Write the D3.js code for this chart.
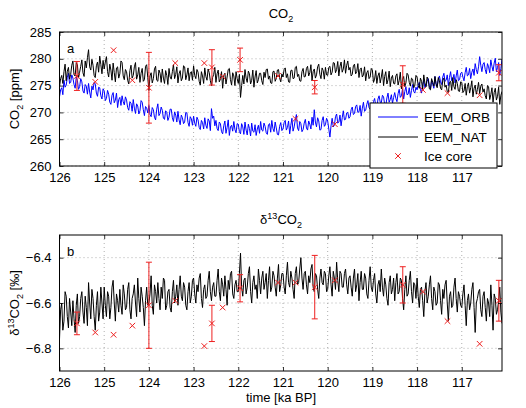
<!DOCTYPE html>
<html>
<head>
<meta charset="utf-8">
<script src="https://cdn.jsdelivr.net/npm/d3@7"></script>
<style>
  body { margin: 0; background: #fff; }
  text { font-family: "Liberation Sans", Arial, sans-serif; fill: #000; }
</style>
</head>
<body>
<div class="root"></div>
<script>
// model output sampled every 0.025 ka from 126 ka (one row per 0.5 ka)
var modelStart = 126, modelStep = 0.025;

var eemNat = [
  274.8, 276.3, 276.9, 275.4, 277.6, 279.0, 275.9, 277.7, 278.4, 276.2, 277.1, 278.8, 279.6, 277.0, 276.8, 279.3, 278.9, 276.4, 277.5, 278.6,
  279.8, 277.4, 276.7, 279.6, 278.3, 280.2, 281.7, 278.5, 277.9, 279.9, 278.8, 276.9, 276.5, 278.7, 279.4, 277.5, 280.5, 278.9, 277.2, 279.7,
  278.1, 279.4, 280.4, 277.6, 276.6, 279.0, 277.9, 276.0, 279.2, 277.4, 275.7, 278.3, 278.5, 276.4, 277.2, 279.6, 279.3, 276.8, 276.1, 278.0,
  277.6, 276.0, 275.3, 277.8, 278.8, 276.4, 276.9, 278.5, 279.3, 276.2, 277.0, 278.4, 275.6, 277.3, 278.2, 275.8, 276.1, 278.6, 278.9, 276.5,
  274.1, 276.8, 277.4, 275.5, 276.3, 278.1, 278.6, 276.0, 275.8, 277.9, 277.3, 275.6, 278.1, 276.4, 275.4, 277.8, 276.9, 275.2, 278.2, 276.6,
  276.2, 277.6, 278.9, 276.3, 277.1, 278.5, 275.5, 277.2, 277.8, 275.9, 276.4, 278.7, 278.5, 276.1, 277.0, 278.3, 275.9, 277.4, 277.6, 276.0,
  278.7, 276.9, 276.3, 278.0, 277.5, 275.8, 275.1, 277.6, 276.8, 275.4, 278.3, 276.7, 276.0, 278.1, 277.4, 275.9, 275.0, 276.5, 277.1, 278.4,
  275.6, 277.2, 277.9, 275.7, 276.2, 277.6, 274.5, 276.9, 277.3, 275.3, 276.6, 278.0, 278.2, 276.1, 275.1, 277.4, 276.8, 275.0, 277.6, 276.3,
  275.4, 277.1, 272.8, 275.0, 276.9, 275.3, 278.0, 276.4, 275.6, 277.7, 277.2, 275.3, 276.0, 277.9, 274.7, 276.6, 277.8, 275.5, 276.1, 277.3,
  277.3, 275.9, 275.2, 277.5, 276.5, 278.0, 278.1, 276.2, 276.8, 275.5, 275.4, 277.6, 277.7, 275.8, 276.3, 277.9, 278.0, 276.4, 275.7, 277.2,
  276.6, 278.0, 278.3, 276.5, 277.2, 275.7, 275.6, 277.8, 277.9, 276.3, 276.4, 278.4, 278.6, 276.7, 277.1, 275.9, 275.8, 277.6, 278.2, 276.6,
  276.7, 278.2, 278.6, 276.8, 277.4, 278.9, 275.9, 277.6, 278.1, 276.4, 277.0, 278.5, 279.0, 277.1, 276.3, 278.3, 277.8, 276.2, 278.4, 277.0,
  276.9, 278.4, 278.6, 277.0, 277.5, 279.3, 279.2, 277.4, 278.0, 279.5, 276.8, 278.6, 279.4, 277.5, 278.1, 279.8, 277.3, 278.8, 279.6, 277.9,
  278.4, 276.8, 277.1, 278.7, 279.0, 277.2, 277.6, 279.1, 276.5, 278.0, 278.3, 276.6, 277.0, 278.5, 275.9, 277.4, 277.8, 276.3, 276.6, 278.2,
  277.9, 275.6, 276.2, 277.8, 275.4, 276.8, 277.4, 275.5, 276.6, 278.0, 275.0, 276.7, 277.6, 275.3, 276.1, 277.7, 274.8, 276.4, 276.9, 275.4,
  275.3, 276.8, 277.2, 275.1, 276.0, 277.5, 274.4, 276.2, 276.7, 274.8, 275.5, 277.3, 277.0, 275.6, 274.9, 276.4, 276.2, 274.6, 275.1, 276.9,
  276.6, 275.0, 274.5, 276.4, 275.8, 274.3, 277.0, 275.5, 274.8, 276.6, 276.1, 274.4, 274.2, 276.3, 275.6, 274.9, 276.7, 275.2, 274.6, 276.5,
  275.9, 274.5, 274.2, 276.0, 276.4, 274.7, 275.1, 273.9, 273.7, 275.6, 275.8, 274.1, 276.5, 274.8, 274.3, 276.1, 275.4, 274.0, 273.9, 275.7,
  275.6, 273.7, 274.0, 275.4, 273.2, 274.8, 275.5, 273.6, 274.6, 275.9, 272.9, 274.5, 275.1, 273.4, 274.3, 275.6, 273.5, 274.9, 275.3, 273.8,
  274.4, 273.1, 272.5, 275.0, 274.8, 272.4, 273.3, 274.6, 271.9, 273.7, 274.5, 272.3, 273.0, 274.7, 271.5, 273.2, 273.9
];

var eemOrb = [
  272.9, 274.2, 274.6, 273.3, 276.0, 274.7, 275.1, 276.5, 277.3, 275.4, 275.6, 277.0, 276.4, 275.2, 274.5, 276.6, 276.0, 274.3, 274.8, 276.3,
  275.7, 274.0, 273.6, 275.2, 274.9, 273.4, 275.4, 273.8, 272.7, 274.9, 274.2, 275.6, 275.3, 273.6, 273.0, 274.7, 274.6, 273.1, 272.5, 274.4,
  274.0, 272.2, 272.6, 274.1, 273.4, 271.9, 271.5, 273.2, 273.7, 271.8, 272.3, 273.6, 270.9, 272.4, 272.8, 271.3, 273.1, 272.0, 271.4, 272.9,
  272.3, 270.9, 270.4, 272.0, 271.7, 270.2, 272.4, 270.8, 269.8, 271.6, 271.2, 269.7, 270.3, 272.2, 271.9, 270.5, 269.4, 271.1, 270.8, 269.9,
  271.3, 269.6, 269.2, 270.9, 270.5, 269.1, 268.6, 270.6, 271.6, 269.4, 269.8, 271.0, 270.4, 268.9, 268.7, 270.3, 270.0, 268.5, 269.1, 270.6,
  270.6, 269.0, 268.3, 270.1, 269.5, 268.2, 270.2, 268.6, 267.7, 269.5, 269.0, 267.9, 268.2, 270.0, 269.9, 268.1, 267.4, 269.2, 268.8, 267.6,
  269.3, 268.0, 267.4, 269.1, 268.6, 267.2, 266.8, 268.5, 268.1, 266.9, 269.0, 267.6, 267.0, 268.8, 268.4, 266.6, 270.7, 268.9, 269.3, 267.5,
  268.5, 267.0, 266.6, 268.2, 267.9, 266.4, 266.0, 267.5, 268.4, 266.1, 267.2, 268.6, 265.7, 267.3, 267.6, 266.5, 268.3, 266.8, 266.2, 267.9,
  267.8, 266.4, 266.0, 267.9, 267.3, 265.9, 268.2, 266.7, 265.8, 267.8, 267.0, 265.6, 268.0, 266.5, 266.3, 267.7, 265.7, 266.9, 267.6, 266.1,
  268.3, 266.7, 266.5, 268.0, 267.4, 266.2, 265.9, 267.7, 267.9, 266.3, 268.5, 267.0, 266.4, 268.2, 267.1, 265.9, 265.8, 267.4, 268.1, 266.6,
  266.9, 268.1, 268.5, 266.7, 267.2, 268.4, 266.0, 267.6, 268.9, 266.5, 267.3, 268.6, 269.6, 267.1, 266.6, 268.3, 267.9, 266.4, 266.8, 268.0,
  268.7, 267.1, 266.7, 268.4, 267.8, 266.9, 269.1, 267.6, 270.5, 268.2, 267.3, 269.0, 268.4, 266.7, 266.8, 268.5, 269.2, 267.4, 267.7, 268.9,
  268.4, 266.9, 265.4, 267.5, 268.9, 267.3, 267.6, 269.2, 269.7, 268.0, 268.2, 269.5, 267.5, 269.0, 270.3, 268.6, 268.7, 269.9, 270.0, 268.9,
  269.2, 270.5, 271.0, 269.6, 269.8, 271.1, 271.4, 270.0, 270.1, 271.3, 269.3, 270.8, 271.9, 270.2, 270.4, 271.5, 272.2, 270.9, 270.6, 271.8,
  271.2, 272.0, 272.6, 271.3, 270.7, 272.5, 273.1, 271.9, 271.8, 273.2, 272.9, 271.5, 271.2, 272.7, 273.6, 271.9, 272.4, 273.3, 271.7, 272.8,
  273.7, 272.6, 272.0, 273.5, 274.3, 272.8, 273.1, 274.4, 272.5, 273.9, 274.8, 273.3, 273.4, 274.6, 272.8, 274.1, 275.2, 273.9, 273.6, 274.7,
  274.2, 275.1, 275.6, 274.3, 273.6, 275.2, 276.0, 274.6, 274.9, 275.8, 276.3, 275.0, 274.4, 276.0, 275.3, 274.5, 276.7, 275.4, 274.9, 276.1,
  276.8, 275.7, 275.2, 276.6, 277.3, 275.8, 276.0, 277.0, 275.0, 276.5, 277.6, 275.9, 276.2, 277.1, 275.5, 276.8, 277.9, 275.9, 276.1, 277.3,
  277.5, 276.6, 275.9, 277.4, 278.4, 276.8, 277.0, 278.2, 276.3, 277.5, 278.1, 276.9, 279.1, 278.0, 277.2, 278.5, 280.4, 278.8, 277.6, 279.0,
  279.3, 278.0, 277.2, 279.1, 278.5, 277.4, 279.8, 278.6, 277.7, 279.2, 280.1, 277.6, 278.4, 279.3, 276.9, 278.2, 279.9
];

var eemD13c = [
  -6.76, -6.63, -6.60, -6.72, -6.68, -6.55, -6.57, -6.66, -6.71, -6.58, -6.64, -6.70, -6.59, -6.67, -6.73, -6.61, -6.56, -6.69, -6.66, -6.58,
  -6.55, -6.64, -6.69, -6.57, -6.62, -6.70, -6.51, -6.60, -6.67, -6.54, -6.58, -6.66, -6.72, -6.61, -6.55, -6.68, -6.64, -6.53, -6.60, -6.67,
  -6.53, -6.61, -6.66, -6.55, -6.57, -6.67, -6.62, -6.53, -6.50, -6.60, -6.68, -6.56, -6.59, -6.64, -6.54, -6.61, -6.65, -6.52, -6.56, -6.63,
  -6.62, -6.54, -6.51, -6.63, -6.67, -6.58, -6.56, -6.52, -6.60, -6.66, -6.49, -6.58, -6.64, -6.53, -6.57, -6.62, -6.70, -6.59, -6.53, -6.61,
  -6.60, -6.56, -6.48, -6.61, -6.65, -6.52, -6.55, -6.60, -6.51, -6.58, -6.63, -6.53, -6.58, -6.49, -6.50, -6.63, -6.61, -6.55, -6.54, -6.62,
  -6.64, -6.55, -6.50, -6.60, -6.57, -6.52, -6.61, -6.54, -6.48, -6.57, -6.59, -6.51, -6.53, -6.61, -6.63, -6.55, -6.51, -6.60, -6.57, -6.50,
  -6.49, -6.56, -6.60, -6.52, -6.55, -6.49, -6.47, -6.58, -6.62, -6.54, -6.52, -6.58, -6.57, -6.50, -6.46, -6.55, -6.59, -6.53, -6.51, -6.57,
  -6.57, -6.50, -6.45, -6.55, -6.59, -6.49, -6.52, -6.57, -6.48, -6.54, -6.61, -6.50, -6.54, -6.47, -6.46, -6.56, -6.58, -6.52, -6.50, -6.55,
  -6.55, -6.47, -6.38, -6.53, -6.57, -6.50, -6.49, -6.56, -6.53, -6.47, -6.44, -6.55, -6.60, -6.51, -6.48, -6.54, -6.52, -6.58, -6.45, -6.50,
  -6.56, -6.49, -6.46, -6.54, -6.51, -6.47, -6.58, -6.50, -6.44, -6.55, -6.53, -6.46, -6.48, -6.53, -6.57, -6.49, -6.43, -6.55, -6.52, -6.47,
  -6.47, -6.53, -6.56, -6.48, -6.42, -6.51, -6.53, -6.46, -6.49, -6.54, -6.58, -6.47, -6.44, -6.52, -6.51, -6.45, -6.40, -6.49, -6.54, -6.47,
  -6.46, -6.52, -6.56, -6.48, -6.51, -6.45, -6.43, -6.53, -6.55, -6.47, -6.48, -6.54, -6.58, -6.49, -6.45, -6.51, -6.52, -6.46, -6.47, -6.55,
  -6.54, -6.48, -6.44, -6.52, -6.57, -6.46, -6.49, -6.54, -6.42, -6.50, -6.55, -6.46, -6.47, -6.53, -6.53, -6.47, -6.45, -6.52, -6.56, -6.49,
  -6.48, -6.53, -6.57, -6.49, -6.45, -6.55, -6.52, -6.47, -6.59, -6.51, -6.46, -6.54, -6.54, -6.47, -6.49, -6.56, -6.58, -6.50, -6.44, -6.53,
  -6.55, -6.50, -6.47, -6.56, -6.60, -6.52, -6.50, -6.55, -6.45, -6.53, -6.57, -6.49, -6.52, -6.58, -6.61, -6.51, -6.48, -6.56, -6.54, -6.49,
  -6.59, -6.51, -6.47, -6.56, -6.55, -6.49, -6.50, -6.58, -6.63, -6.54, -6.48, -6.57, -6.56, -6.50, -6.46, -6.55, -6.60, -6.51, -6.52, -6.58,
  -6.49, -6.57, -6.62, -6.54, -6.53, -6.59, -6.66, -6.55, -6.51, -6.60, -6.57, -6.52, -6.48, -6.58, -6.63, -6.53, -6.55, -6.61, -6.60, -6.51,
  -6.52, -6.59, -6.65, -6.54, -6.58, -6.52, -6.50, -6.60, -6.68, -6.57, -6.55, -6.62, -6.61, -6.53, -6.49, -6.58, -6.64, -6.55, -6.57, -6.61,
  -6.62, -6.56, -6.52, -6.61, -6.70, -6.59, -6.56, -6.63, -6.60, -6.54, -6.51, -6.62, -6.73, -6.60, -6.58, -6.55, -6.54, -6.63, -6.66, -6.57,
  -6.55, -6.62, -6.68, -6.58, -6.60, -6.66, -6.52, -6.61, -6.72, -6.56, -6.58, -6.65, -6.63, -6.59, -6.53, -6.64, -6.69
];

// ice core measurements
var iceTime   = [125.61, 125.20, 124.79, 124.37, 124.00, 123.41, 122.76, 122.59, 122.35, 121.96,
                 121.11, 120.72, 120.29, 119.84, 118.32, 117.87, 117.32, 116.60, 116.17];
var iceCO2    = [276.8, 275.7, 281.6, 276.0, 274.6, 279.2, 279.2, 278.4, 276.7, 279.8,
                 276.8, 268.8, 274.7, 267.8, 275.2, 274.2, 273.6, 273.2, 277.4];
var iceCO2Err = [2.7, null, null, null, 6.6, null, null, 3.3, null, 2.2,
                 null, null, 1.25, null, 3.5, null, null, null, 1.5];
var iceD13c    = [-6.69, -6.73, -6.74, -6.70, -6.61, -6.59, -6.79, -6.69, -6.62, -6.535,
                  -6.51, -6.51, -6.53, -6.50, -6.52, -6.55, -6.68, -6.78, -6.59];
var iceD13cErr = [0.05, null, null, null, 0.19, null, null, 0.08, null, 0.06,
                  null, null, 0.14, null, 0.08, null, null, null, 0.09];

var timeTicks = [126, 125, 124, 123, 122, 121, 120, 119, 118, 117];
var co2Ticks  = [260, 265, 270, 275, 280, 285];
var d13cTicks = [-6.8, -6.6, -6.4];

function runChart() {
  var w = 526, h = 408;
  var left = 59.5, right = 502;
  var red = '#ee2020';

  var svg = d3.select('.root').append('svg')
    .attr('width', w)
    .attr('height', h);

  var x = d3.scaleLinear().domain([126, 116.1]).range([left, right]);

  function series(vals) {
    return vals.map(function(v, i) { return {t: modelStart - i * modelStep, v: v}; });
  }

  function panel(opt) {
    var y = d3.scaleLinear().domain(opt.domain).range([opt.bottom, opt.top]);
    var g = svg.append('g');
    var clipId = 'clip' + opt.name;

    svg.append('clipPath').attr('id', clipId)
      .append('rect')
        .attr('x', left).attr('y', opt.top)
        .attr('width', right - left).attr('height', opt.bottom - opt.top);

    // dotted grid
    g.append('g').selectAll('line')
      .data(timeTicks.filter(function(d) { return d !== 126; }))
      .enter().append('line')
        .attr('x1', function(d) { return x(d); })
        .attr('x2', function(d) { return x(d); })
        .attr('y1', opt.top).attr('y2', opt.bottom)
        .attr('stroke', '#9a9a9a').attr('stroke-width', 0.8)
        .attr('stroke-dasharray', '1,3');
    g.append('g').selectAll('line')
      .data(opt.ticks)
      .enter().append('line')
        .attr('x1', left).attr('x2', right)
        .attr('y1', function(d) { return y(d); })
        .attr('y2', function(d) { return y(d); })
        .attr('stroke', '#9a9a9a').attr('stroke-width', 0.8)
        .attr('stroke-dasharray', '1,3');

    var line = d3.line()
      .x(function(d) { return x(d.t); })
      .y(function(d) { return y(d.v); });

    var plot = g.append('g').attr('clip-path', 'url(#' + clipId + ')');
    opt.lines.forEach(function(s) {
      plot.append('path')
        .datum(series(s.values))
        .attr('d', line)
        .attr('fill', 'none')
        .attr('stroke', s.color)
        .attr('stroke-width', 1)
        .attr('stroke-linejoin', 'round');
    });

    // ice core error bars and crosses
    var ice = iceTime.map(function(t, i) {
      return {t: t, v: opt.ice[i], e: opt.err[i]};
    });
    var bars = plot.append('g').selectAll('g')
      .data(ice.filter(function(d) { return d.e != null; }))
      .enter().append('g')
        .attr('stroke', red).attr('stroke-width', 1);
    bars.append('line')
      .attr('x1', function(d) { return x(d.t); })
      .attr('x2', function(d) { return x(d.t); })
      .attr('y1', function(d) { return y(d.v - d.e); })
      .attr('y2', function(d) { return y(d.v + d.e); });
    [-1, 1].forEach(function(sgn) {
      bars.append('line')
        .attr('x1', function(d) { return x(d.t) - 3; })
        .attr('x2', function(d) { return x(d.t) + 3; })
        .attr('y1', function(d) { return y(d.v + sgn * d.e); })
        .attr('y2', function(d) { return y(d.v + sgn * d.e); });
    });
    plot.append('g').selectAll('path')
      .data(ice)
      .enter().append('path')
        .attr('transform', function(d) { return 'translate(' + x(d.t) + ',' + y(d.v) + ')'; })
        .attr('d', 'M-2.8,-2.8L2.8,2.8M-2.8,2.8L2.8,-2.8')
        .attr('stroke', red).attr('stroke-width', 1);

    // axes with inward ticks on all sides
    g.append('g')
      .attr('transform', 'translate(0,' + opt.bottom + ')')
      .call(d3.axisBottom(x).tickValues(timeTicks).tickFormat(d3.format('d'))
        .tickSizeInner(-4).tickSizeOuter(0).tickPadding(7));
    g.append('g')
      .attr('transform', 'translate(0,' + opt.top + ')')
      .call(d3.axisTop(x).tickValues(timeTicks).tickFormat('')
        .tickSizeInner(-4).tickSizeOuter(0));
    g.append('g')
      .attr('transform', 'translate(' + left + ',0)')
      .call(d3.axisLeft(y).tickValues(opt.ticks).tickFormat(opt.fmt)
        .tickSizeInner(-4).tickSizeOuter(0).tickPadding(8));
    g.append('g')
      .attr('transform', 'translate(' + right + ',0)')
      .call(d3.axisRight(y).tickValues(opt.ticks).tickFormat('')
        .tickSizeInner(-4).tickSizeOuter(0));
    g.selectAll('.domain').remove();
    g.selectAll('.tick line').attr('stroke', '#000').attr('stroke-width', 0.8);
    g.selectAll('.tick text').attr('font-size', 13)
      .attr('font-family', '"Liberation Sans", Arial, sans-serif');

    g.append('rect')
      .attr('x', left).attr('y', opt.top)
      .attr('width', right - left).attr('height', opt.bottom - opt.top)
      .attr('fill', 'none').attr('stroke', '#000').attr('stroke-width', 1);

    g.append('text')
      .attr('x', 67).attr('y', opt.top + 21)
      .attr('font-size', 13)
      .text(opt.name);
  }

  panel({
    name: 'a', top: 32, bottom: 166, domain: [260, 285], ticks: co2Ticks,
    fmt: d3.format('d'),
    lines: [{values: eemOrb, color: '#0000ff'}, {values: eemNat, color: '#000'}],
    ice: iceCO2, err: iceCO2Err
  });

  panel({
    name: 'b', top: 235, bottom: 371, domain: [-6.9, -6.3], ticks: d13cTicks,
    fmt: d3.format('.1f'),
    lines: [{values: eemD13c, color: '#000'}],
    ice: iceD13c, err: iceD13cErr
  });

  // titles
  var t1 = svg.append('text').attr('x', 281).attr('y', 18)
    .attr('text-anchor', 'middle').attr('font-size', 13);
  t1.append('tspan').text('CO');
  t1.append('tspan').attr('font-size', 9).attr('dy', 4).text('2');

  var t2 = svg.append('text').attr('x', 281).attr('y', 224)
    .attr('text-anchor', 'middle').attr('font-size', 13);
  t2.append('tspan').text('δ');
  t2.append('tspan').attr('font-size', 9).attr('dy', -5).text('13');
  t2.append('tspan').attr('dy', 5).text('CO');
  t2.append('tspan').attr('font-size', 9).attr('dy', 4).text('2');

  // y labels
  var y1 = svg.append('text')
    .attr('transform', 'translate(19,99) rotate(-90)')
    .attr('text-anchor', 'middle').attr('font-size', 13);
  y1.append('tspan').text('CO');
  y1.append('tspan').attr('font-size', 9).attr('dy', 4).text('2');
  y1.append('tspan').attr('dy', -4).text(' [ppm]');

  var y2 = svg.append('text')
    .attr('transform', 'translate(19,303) rotate(-90)')
    .attr('text-anchor', 'middle').attr('font-size', 13);
  y2.append('tspan').text('δ');
  y2.append('tspan').attr('font-size', 9).attr('dy', -5).text('13');
  y2.append('tspan').attr('dy', 5).text('CO');
  y2.append('tspan').attr('font-size', 9).attr('dy', 4).text('2');
  y2.append('tspan').attr('dy', -4).text(' [‰]');

  svg.append('text').attr('x', 281).attr('y', 402)
    .attr('text-anchor', 'middle').attr('font-size', 13)
    .text('time [ka BP]');

  // legend
  var leg = svg.append('g');
  leg.append('rect')
    .attr('x', 370).attr('y', 103).attr('width', 127).attr('height', 65)
    .attr('fill', '#fff').attr('stroke', '#000').attr('stroke-width', 1);
  var items = [
    {label: 'EEM_ORB', color: '#0000ff', y: 117},
    {label: 'EEM_NAT', color: '#000', y: 137},
    {label: 'Ice core', color: red, y: 156, cross: true}
  ];
  items.forEach(function(it) {
    if (it.cross) {
      leg.append('path')
        .attr('transform', 'translate(398,' + it.y + ')')
        .attr('d', 'M-2.8,-2.8L2.8,2.8M-2.8,2.8L2.8,-2.8')
        .attr('stroke', it.color).attr('stroke-width', 1);
    } else {
      leg.append('line')
        .attr('x1', 378).attr('x2', 418).attr('y1', it.y).attr('y2', it.y)
        .attr('stroke', it.color).attr('stroke-width', 1);
    }
    leg.append('text').attr('x', 424).attr('y', it.y + 4.5)
      .attr('font-size', 13.5).text(it.label);
  });
}

window.onload = function() {
  runChart();
};
</script>
</body>
</html>
